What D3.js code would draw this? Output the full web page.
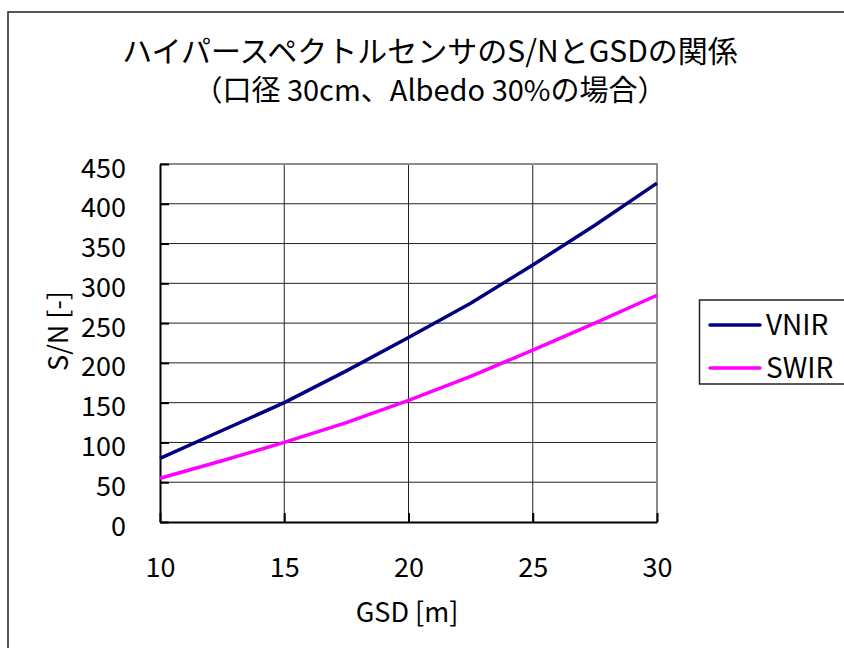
<!DOCTYPE html>
<html>
<head>
<meta charset="utf-8">
<script src="https://cdn.jsdelivr.net/npm/d3@7"></script>
<style>
  html, body { margin: 0; padding: 0; background: #fff; }
  svg { display: block; }
  text { font-family: "Noto Sans CJK JP", "Noto Sans", sans-serif; fill: #000; }
</style>
</head>
<body>
<svg id="chart" width="844" height="648"></svg>
<script>
// Ground sample distance [m]
const gsd = [10, 12.5, 15, 17.5, 20, 22.5, 25, 27.5, 30];
// S/N per spectral band
const vnir = [80, 115, 150, 190, 232, 275, 323, 373, 426];
const swir = [55, 77, 100, 125, 153, 183, 216, 250, 285];

const seriesNames = ["VNIR", "SWIR"];
const seriesColors = ["#000080", "#FF00FF"];

const xTicks = [10, 15, 20, 25, 30];
const yTicks = [0, 50, 100, 150, 200, 250, 300, 350, 400, 450];

const titleLine1 = "ハイパースペクトルセンサのS/NとGSDの関係";
const titleLine2 = "（口径 30cm、Albedo 30%の場合）";
const xTitle = "GSD [m]";
const yTitle = "S/N [-]";

const svg = d3.select("#chart");
const plot = { left: 160, right: 657, top: 164, bottom: 522 };

const x = d3.scaleLinear().domain([10, 30]).range([plot.left, plot.right]);
const y = d3.scaleLinear().domain([0, 450]).range([plot.bottom, plot.top]);

// outer chart frame
svg.append("rect")
  .attr("x", 8).attr("y", 12)
  .attr("width", 860).attr("height", 660)
  .attr("fill", "#fff")
  .attr("stroke", "#222").attr("stroke-width", 1.5);

// titles
svg.append("text")
  .attr("x", 430).attr("y", 62)
  .attr("text-anchor", "middle")
  .attr("font-size", 30)
  .text(titleLine1);
svg.append("text")
  .attr("x", 430).attr("y", 101)
  .attr("text-anchor", "middle")
  .attr("font-size", 29)
  .text(titleLine2);

// gridlines
const grid = svg.append("g");
grid.selectAll("line.h")
  .data(yTicks.filter(d => d > 0 && d < 450))
  .join("line")
  .attr("x1", plot.left).attr("x2", plot.right)
  .attr("y1", d => y(d)).attr("y2", d => y(d))
  .attr("stroke", "#222").attr("stroke-width", 1);
grid.selectAll("line.v")
  .data(xTicks.filter(d => d > 10 && d < 30))
  .join("line")
  .attr("y1", plot.top).attr("y2", plot.bottom)
  .attr("x1", d => x(d)).attr("x2", d => x(d))
  .attr("stroke", "#222").attr("stroke-width", 1);

// top and right plot border
svg.append("path")
  .attr("d", `M${plot.left},${plot.top}H${plot.right}V${plot.bottom}`)
  .attr("fill", "none")
  .attr("stroke", "#8c8c8c").attr("stroke-width", 2);

// axes with inward ticks
const xAxis = svg.append("g")
  .attr("transform", `translate(0,${plot.bottom})`)
  .call(d3.axisBottom(x).tickValues(xTicks).tickSizeInner(-9).tickSizeOuter(0).tickPadding(0));
xAxis.select(".domain").attr("stroke", "#000").attr("stroke-width", 2);
xAxis.selectAll(".tick line").attr("stroke", "#000").attr("stroke-width", 2);
xAxis.selectAll(".tick text").remove();
xAxis.selectAll(".tick").append("text")
  .attr("y", 55)
  .attr("text-anchor", "middle")
  .attr("font-size", 27)
  .text(d => d);

const yAxis = svg.append("g")
  .attr("transform", `translate(${plot.left},0)`)
  .call(d3.axisLeft(y).tickValues(yTicks).tickSizeInner(-9).tickSizeOuter(0).tickPadding(0));
yAxis.select(".domain").attr("stroke", "#000").attr("stroke-width", 2);
yAxis.selectAll(".tick line").attr("stroke", "#000").attr("stroke-width", 2);
yAxis.selectAll(".tick text").remove();
yAxis.selectAll(".tick").append("text")
  .attr("x", -34)
  .attr("y", 13)
  .attr("text-anchor", "end")
  .attr("font-size", 27)
  .text(d => d);

// axis titles
svg.append("text")
  .attr("x", 407).attr("y", 622)
  .attr("text-anchor", "middle")
  .attr("font-size", 27)
  .text(xTitle);
svg.append("text")
  .attr("transform", "translate(68,331) rotate(-90)")
  .attr("text-anchor", "middle")
  .attr("font-size", 27)
  .text(yTitle);

// series lines
const line = d3.line().x((d, i) => x(gsd[i])).y(d => y(d));
[vnir, swir].forEach((vals, k) => {
  svg.append("path")
    .datum(vals)
    .attr("d", line)
    .attr("fill", "none")
    .attr("stroke", seriesColors[k])
    .attr("stroke-width", 3.5)
    .attr("stroke-linejoin", "round");
});

// legend
const legend = svg.append("g");
legend.append("rect")
  .attr("x", 699.5).attr("y", 300)
  .attr("width", 160).attr("height", 84)
  .attr("fill", "#fff")
  .attr("stroke", "#222").attr("stroke-width", 1.5);
seriesNames.forEach((name, k) => {
  const cy = 325 + k * 43;
  legend.append("line")
    .attr("x1", 710).attr("x2", 760)
    .attr("y1", cy).attr("y2", cy)
    .attr("stroke", seriesColors[k]).attr("stroke-width", 3.5)
    .attr("stroke-linecap", "round");
  legend.append("text")
    .attr("x", 766).attr("y", cy + 10)
    .attr("font-size", 28)
    .text(name);
});
</script>
</body>
</html>
